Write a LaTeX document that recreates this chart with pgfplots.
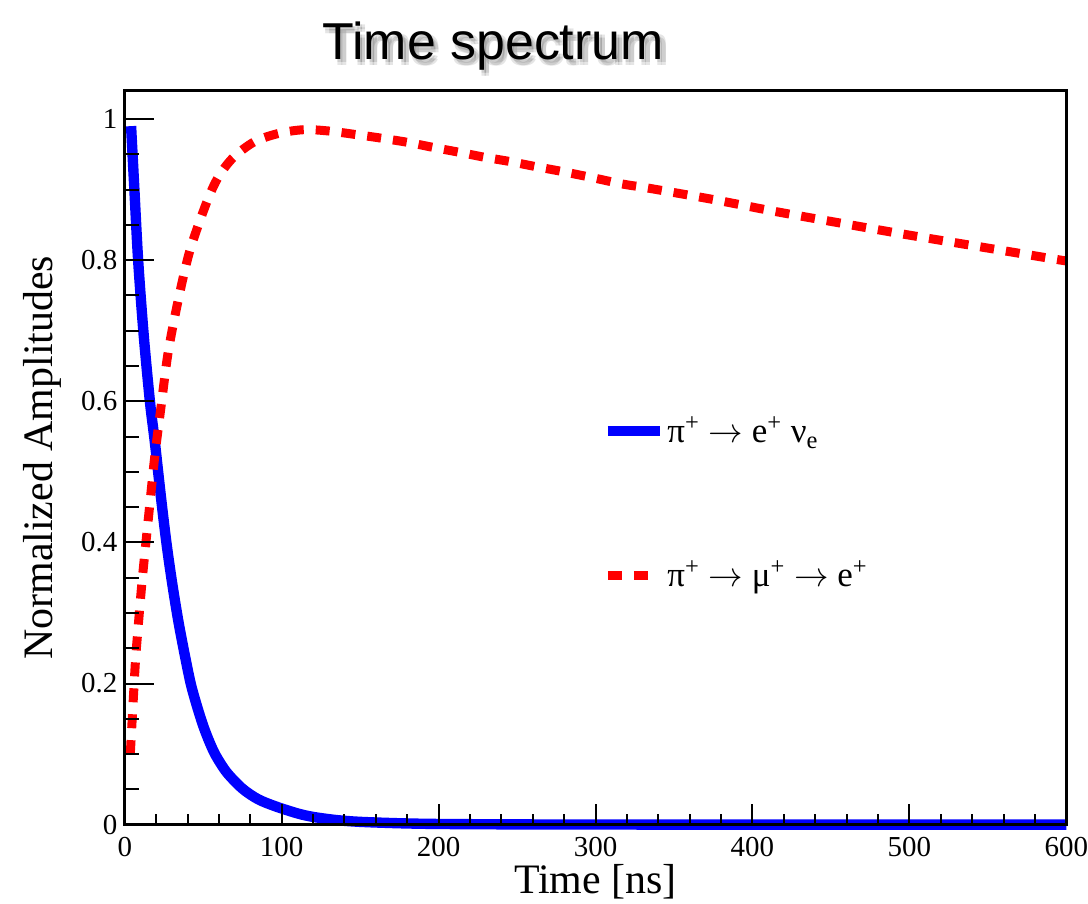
\documentclass[border=0pt]{standalone}
\usepackage{pgfplots}
\usepackage{pgfplotstable}
\pgfplotsset{compat=1.18}
\usepackage{fontspec}
\setmainfont{Liberation Serif}
\newfontfamily\titlefont{Liberation Sans}

% pi+ -> e+ nu_e
\pgfplotstableread{
t v
4 0.99
6 0.905
8.5 0.80
12 0.695
16 0.60
19 0.545
23 0.465
26.5 0.40
30 0.345
34 0.29
38 0.243
42 0.20
46 0.168
50 0.14
54 0.117
58 0.098
65 0.074
75 0.051
85 0.036
96 0.026
110 0.016
120 0.011
135 0.0065
150 0.004
175 0.002
200 0.001
250 0.0004
300 0.0002
400 0.0001
500 0.0
600 0.0
}\bluedata

% pi+ -> mu+ -> e+
\pgfplotstableread{
t v
3.5 0.10
4.9 0.157
6.8 0.232
8.5 0.28
10.6 0.335
12.1 0.37
15.3 0.44
19 0.52
23.3 0.596
27.6 0.669
33.9 0.742
41.4 0.813
52 0.881
59.4 0.917
68.9 0.945
82.7 0.968
98.6 0.980
114.5 0.985
130.4 0.983
147.4 0.978
163.3 0.973
180.3 0.967
196.2 0.960
213 0.953
229 0.946
245 0.940
261 0.933
278 0.926
298 0.917
317 0.908
334 0.902
375 0.886
414.6 0.869
455 0.853
496 0.837
545 0.819
594 0.801
600 0.799
}\reddata

\newcommand{\ar}{ $\rightarrow$ }

\begin{document}
\begin{tikzpicture}
\begin{axis}[
  name=ax,
  scale only axis, width=471.5pt, height=367.5pt,
  xmin=0, xmax=600, ymin=0, ymax=1.04,
  axis on top, clip=false,
  axis line style={line width=1.4pt},
  xtick={0,100,200,300,400,500,600}, minor x tick num=4, xtick pos=bottom,
  ytick=\empty,
  major tick length=10.5pt, minor tick length=5.5pt,
  every tick/.style={black, line width=1pt},
  /pgf/number format/assume math mode=true,
  tick label style={font=\fontsize{14.5}{17}\selectfont},
  xticklabel style={inner sep=0pt, yshift=-6pt},
  xlabel={Time [ns]},
  xlabel style={font=\fontsize{21}{25}\selectfont, at={(axis description cs:0.5,-0.0939)}, anchor=base, inner sep=0pt},
  ylabel={Normalized Amplitudes},
  ylabel style={font=\fontsize{21}{25}\selectfont, at={(axis description cs:-0.0668,0.5)}, anchor=south, inner sep=0pt},
  legend style={draw=none, fill=none, at={(axis cs:300.5,0.588)}, anchor=north west,
    font=\fontsize{17.5}{20}\selectfont, row sep=55pt, nodes={inner sep=1.2pt}},
  legend cell align=left,
  legend image code/.code={\draw[#1] (0pt,0pt) -- (26pt,0pt);},
]
\addplot[blue, line width=5.2pt, smooth, tension=0.5] table[x=t,y=v] {\bluedata};
\addlegendentry{π\textsuperscript{+}\ar e\textsuperscript{+} ν\textsubscript{e}}
\addplot[red, line width=4.5pt, dash pattern=on 7pt off 6pt, smooth, tension=0.5] table[x=t,y=v] {\reddata};
\addlegendentry{π\textsuperscript{+}\ar μ\textsuperscript{+}\ar e\textsuperscript{+}}
\end{axis}
\begin{axis}[
  scale only axis, width=471.5pt, height=367.5pt,
  xmin=0, xmax=600, ymin=0, ymax=1.04,
  axis x line=none, axis y line*=left,
  axis line style={line width=1.4pt},
  xtick=\empty,
  ytick={0,0.2,0.4,0.6,0.8,1}, minor y tick num=3,
  major tick length=14.5pt, minor tick length=7pt,
  every tick/.style={black, line width=1pt},
  /pgf/number format/assume math mode=true,
  tick label style={font=\fontsize{14.5}{17}\selectfont},
  yticklabel style={inner sep=0pt, xshift=-3.5pt},
]
\end{axis}
% title with soft shadow
\foreach \dx/\dy in {1.2/-1.4, 2.8/-1.4, 1.2/-2.8, 2.8/-2.8}{
  \node[anchor=base, font=\titlefont\fontsize{26}{30}\selectfont, text=black, opacity=0.1]
    at ([shift={(184.5pt+\dx pt,15.5pt+\dy pt)}]ax.north west) {Time spectrum};
}
\node[anchor=base, font=\titlefont\fontsize{26}{30}\selectfont]
  at ([shift={(184.5pt,15.5pt)}]ax.north west) {Time spectrum};
\path ([shift={(-62.5pt,-39.5pt)}]ax.south west) rectangle ([shift={(10pt,45.5pt)}]ax.north east);
\end{tikzpicture}
\end{document}
